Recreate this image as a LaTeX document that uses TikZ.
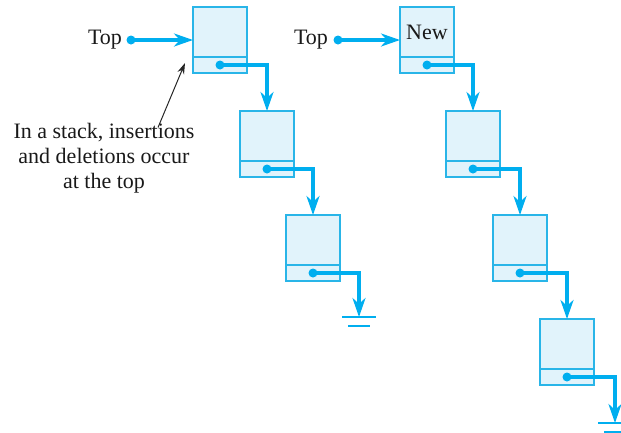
\documentclass[tikz,border=0pt]{standalone}
\usepackage{fontspec}
\setmainfont{Liberation Serif}
\usetikzlibrary{positioning,arrows.meta}

\definecolor{linkblue}{HTML}{00AEEF}
\definecolor{boxline}{HTML}{29B5E8}
\definecolor{boxfill}{HTML}{E1F3FB}

\tikzset{
  datafld/.style={draw=boxline, fill=boxfill, line width=1.2pt, minimum width=54pt, minimum height=50pt, inner sep=0pt, outer sep=0pt},
  ptrfld/.style={datafld, minimum height=16pt},
  link/.style={draw=linkblue, line width=3.4pt, -{Stealth[length=19pt,width=13pt,inset=6pt]}},
  dot/.style={fill=linkblue},
  gnd/.style={draw=linkblue, line width=1.8pt},
  lbl/.style={text=black!90, font=\fontsize{22}{25}\selectfont},
}

\begin{document}
\begin{tikzpicture}[x=1pt, y=-1pt]
		\clip (0,0) rectangle (621,432);
		\useasboundingbox (0,0) rectangle (621,432);
		
		% stack before the push
		\node[datafld] (d1) at (220,32) {};
		\node[ptrfld, below=0pt of d1] (p1) {};
		\node[datafld] (d2) at (267,136) {};
		\node[ptrfld, below=0pt of d2] (p2) {};
		\node[datafld] (d3) at (313,240) {};
		\node[ptrfld, below=0pt of d3] (p3) {};
		
		\node[lbl] (top1) at (105,40) {Top};
		\coordinate (t1) at (131,40);
		\draw[link] (t1) -- (t1 -| d1.west);
		\fill[dot] (t1) circle (4.5pt);
		
		\draw[link] (p1.center) -| (d2.north);
		\draw[link] (p2.center) -| (d3.north);
		\coordinate (g1) at (359,317);
		\draw[link] (p3.center) -| (g1);
		\fill[dot] (p1.center) circle (4.5pt);
		\fill[dot] (p2.center) circle (4.5pt);
		\fill[dot] (p3.center) circle (4.5pt);
		\draw[gnd] ([xshift=-17pt]g1) -- ([xshift=17pt]g1);
		\draw[gnd] ([xshift=-11pt, yshift=-9pt]g1) -- ([xshift=11pt, yshift=-9pt]g1);
		
		% note
		\node[lbl, align=center] (note) at (104,158) {In a stack, insertions\\and deletions occur\\at the top};
		\draw[black!85, line width=1pt, -{Stealth[length=11pt,width=7pt]}] ([xshift=54pt, yshift=-8pt]note.north) -- ([xshift=-8pt, yshift=2pt]p1.west);
		
		% stack after the push
		\node[datafld, lbl] (e1) at (427,32) {New};
		\node[ptrfld, below=0pt of e1] (q1) {};
		\node[datafld] (e2) at (473,136) {};
		\node[ptrfld, below=0pt of e2] (q2) {};
		\node[datafld] (e3) at (520,240) {};
		\node[ptrfld, below=0pt of e3] (q3) {};
		\node[datafld] (e4) at (567,344) {};
		\node[ptrfld, below=0pt of e4] (q4) {};
		
		\node[lbl] (top2) at (311,40) {Top};
		\coordinate (t2) at (338,40);
		\draw[link] (t2) -- (t2 -| e1.west);
		\fill[dot] (t2) circle (4.5pt);
		
		\draw[link] (q1.center) -| (e2.north);
		\draw[link] (q2.center) -| (e3.north);
		\draw[link] (q3.center) -| (e4.north);
		\coordinate (g2) at (615,423);
		\draw[link] (q4.center) -| (g2);
		\fill[dot] (q1.center) circle (4.5pt);
		\fill[dot] (q2.center) circle (4.5pt);
		\fill[dot] (q3.center) circle (4.5pt);
		\fill[dot] (q4.center) circle (4.5pt);
		\draw[gnd] ([xshift=-17pt]g2) -- ([xshift=17pt]g2);
		\draw[gnd] ([xshift=-11pt, yshift=-9pt]g2) -- ([xshift=11pt, yshift=-9pt]g2);
\end{tikzpicture}
\end{document}
